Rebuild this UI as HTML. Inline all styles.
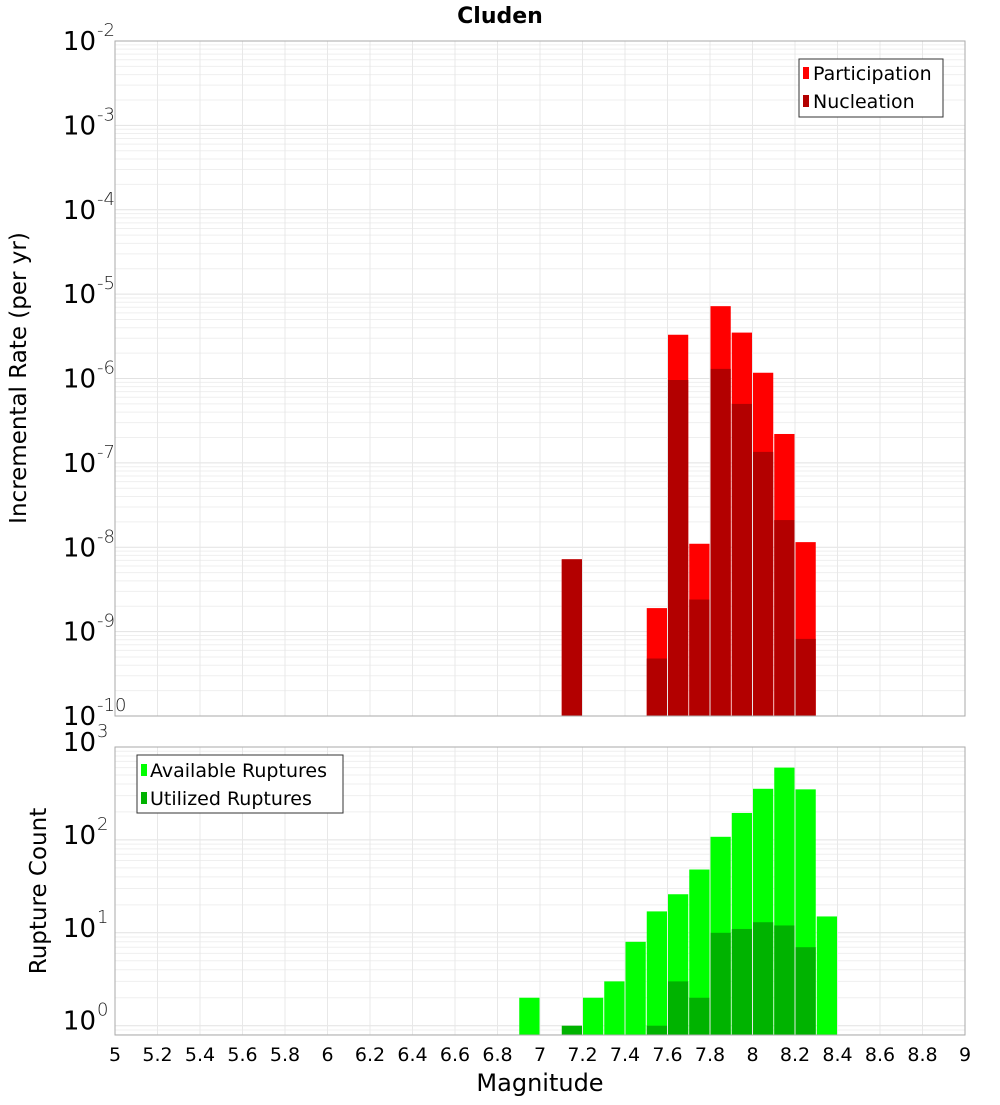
<!DOCTYPE html>
<html><head><meta charset="utf-8"><style>
body{margin:0;background:#fff}
svg text{font-family:"DejaVu Sans","Liberation Sans",sans-serif}
</style></head><body>
<svg id="c" width="1000" height="1100" xmlns="http://www.w3.org/2000/svg"></svg>
<script>
const binStarts=[7.1,7.5,7.6,7.7,7.8,7.9,8.0,8.1,8.2];
const participation=[7.2e-9,1.9e-9,3.3e-6,1.1e-8,7.2e-6,3.5e-6,1.17e-6,2.2e-7,1.15e-8];
const nucleation=[7.2e-9,4.8e-10,9.6e-7,2.4e-9,1.3e-6,5e-7,1.35e-7,2.1e-8,8.2e-10];
const countBins=[6.9,7.1,7.2,7.3,7.4,7.5,7.6,7.7,7.8,7.9,8.0,8.1,8.2,8.3];
const available=[2,0,2,3,8,17,26,48,108,195,355,600,350,15];
const utilized=[0,1,0,0,0,1,3,2,10,11,13,12,7,0];
const xTicks=[5,5.2,5.4,5.6,5.8,6,6.2,6.4,6.6,6.8,7,7.2,7.4,7.6,7.8,8,8.2,8.4,8.6,8.8,9];
const topExps=[-10,-9,-8,-7,-6,-5,-4,-3,-2];
const botExps=[0,1,2,3];

const NS="http://www.w3.org/2000/svg";
const svg=document.getElementById('c');
function el(t,a,p){const e=document.createElementNS(NS,t);for(const k in a)e.setAttribute(k,a[k]);(p||svg).appendChild(e);return e;}
const X0=115,X1=965;
const xs=m=>X0+(m-5)/4*(X1-X0);
const T0=41,T1=716;
const yTop=v=>T1-(Math.log10(v)+10)/8*(T1-T0);
const B0=747,B1=1035;
const yBot=v=>B1-(Math.log10(v)+0.1)/3.1*(B1-B0);

function grid(g,y0,y1,yf,emin,emax){
  for(let e=emin;e<emax;e++)for(let k=1;k<10;k++){const y=yf(k*Math.pow(10,e));if(y<y0-0.5||y>y1+0.5)continue;
    el('line',{x1:X0,x2:X1,y1:y,y2:y,stroke:k==1?'#e2e2e2':'#efefef','stroke-width':1},g);}
  xTicks.forEach(t=>{const x=xs(t);el('line',{x1:x,x2:x,y1:y0,y2:y1,stroke:'#e8e8e8','stroke-width':1},g);});
}
function expLabel(x,y,e,name,g){
  const t=el('text',{x:x-22,y:y,'font-size':26,'text-anchor':'end',fill:'#000'},g);
  
  t.textContent='10';
  const s=el('text',{x:x-21,y:y-14,'font-size':18,fill:'#222','font-weight':'300'},g);s.textContent=String(e);
}

const ti=el('text',{x:500,y:23,'font-size':22,'font-weight':'bold','text-anchor':'middle'});
ti.textContent='Cluden';

const gT=el('g',{});
el('rect',{x:X0,y:T0,width:X1-X0,height:T1-T0,fill:'#fff'},gT);
grid(gT,T0,T1,yTop,-10,-2);
const bw=xs(5.1)-xs(5);
binStarts.forEach((m,i)=>{
  const r=el('rect',{x:xs(m)+0.5,y:yTop(participation[i]),width:bw-1,height:T1-yTop(participation[i]),fill:'#ff0000'},gT);
  
  const n=el('rect',{x:xs(m)+0.5,y:yTop(nucleation[i]),width:bw-1,height:T1-yTop(nucleation[i]),fill:'#b30000'},gT);
  
});
el('rect',{x:X0,y:T0,width:X1-X0,height:T1-T0,fill:'none',stroke:'#aaa'},gT);
topExps.forEach(e=>expLabel(118,yTop(Math.pow(10,e))+9,e,'y-tick-label',gT));
const yl=el('text',{x:26,y:378,'font-size':23,'text-anchor':'middle',transform:'rotate(-90 26 378)'});
yl.textContent='Incremental Rate (per yr)';
const lg=el('g',{});
el('rect',{x:799,y:59,width:144,height:58,fill:'#fff',stroke:'#333'},lg);
el('rect',{x:803,y:67,width:6,height:12,fill:'#ff0000'},lg);
el('rect',{x:803,y:95,width:6,height:12,fill:'#b30000'},lg);
let t=el('text',{x:813,y:80,'font-size':19},lg);t.textContent='Participation';
t=el('text',{x:813,y:108,'font-size':19},lg);t.textContent='Nucleation';

const gB=el('g',{});
el('rect',{x:X0,y:B0,width:X1-X0,height:B1-B0,fill:'#fff'},gB);
grid(gB,B0,B1,yBot,-1,3);
countBins.forEach((m,i)=>{
  if(available[i]>0){const r=el('rect',{x:xs(m)+0.5,y:yBot(available[i]),width:bw-1,height:B1-yBot(available[i]),fill:'#00ff00'},gB);
    }
  if(utilized[i]>0){const r=el('rect',{x:xs(m)+0.5,y:yBot(utilized[i]),width:bw-1,height:B1-yBot(utilized[i]),fill:'#00b300'},gB);
    }
});
el('rect',{x:X0,y:B0,width:X1-X0,height:B1-B0,fill:'none',stroke:'#aaa'},gB);
botExps.forEach(e=>expLabel(118,yBot(Math.pow(10,e))+4,e,'y-tick-label',gB));
const yl2=el('text',{x:46,y:891,'font-size':23,'text-anchor':'middle',transform:'rotate(-90 46 891)'});
yl2.textContent='Rupture Count';
const lg2=el('g',{});
el('rect',{x:137,y:755,width:206,height:58,fill:'#fff',stroke:'#333'},lg2);
el('rect',{x:141,y:764,width:6,height:12,fill:'#00ff00'},lg2);
el('rect',{x:141,y:792,width:6,height:12,fill:'#00b300'},lg2);
t=el('text',{x:150,y:777,'font-size':19},lg2);t.textContent='Available Ruptures';
t=el('text',{x:150,y:805,'font-size':19},lg2);t.textContent='Utilized Ruptures';

xTicks.forEach(v=>{const tx=el('text',{x:xs(v),y:1061,'font-size':19,'text-anchor':'middle'});
  
  tx.textContent=String(Math.round(v*10)/10);});
const xl=el('text',{x:540,y:1091,'font-size':24,'text-anchor':'middle'});
xl.textContent='Magnitude';
</script>
</body></html>
